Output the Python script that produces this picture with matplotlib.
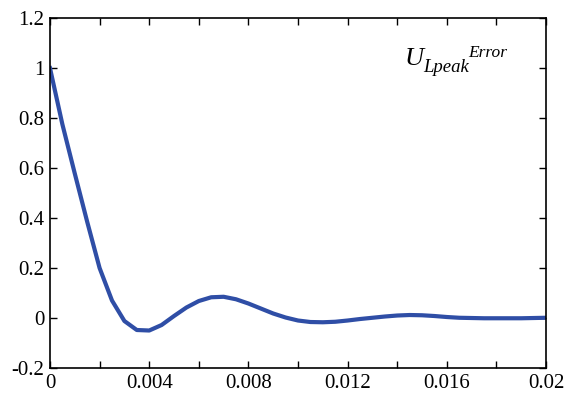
import matplotlib.pyplot as plt
from matplotlib.ticker import MultipleLocator

plt.rcParams['font.family'] = ['Liberation Serif', 'DejaVu Serif']

# peak voltage error vs time
t = [0, 0.0005, 0.001, 0.0015, 0.002, 0.0025, 0.003, 0.0035, 0.004, 0.0045,
     0.005, 0.0055, 0.006, 0.0065, 0.007, 0.0075, 0.008, 0.0085, 0.009, 0.0095,
     0.010, 0.0105, 0.011, 0.0115, 0.012, 0.0125, 0.013, 0.0135, 0.014, 0.0145,
     0.015, 0.0155, 0.016, 0.0165, 0.017, 0.0175, 0.018, 0.0185, 0.019, 0.0195,
     0.020]
u_err = [1.0, 0.775, 0.578, 0.385, 0.2, 0.07, -0.012, -0.048, -0.05, -0.028,
         0.008, 0.042, 0.068, 0.083, 0.085, 0.075, 0.058, 0.038, 0.018, 0.002,
         -0.01, -0.016, -0.017, -0.015, -0.01, -0.004, 0.001, 0.006, 0.01, 0.012,
         0.011, 0.008, 0.004, 0.001, 0.0, -0.001, -0.001, -0.001, -0.001, 0.0,
         0.001]

fig = plt.figure(figsize=(5.7, 3.94), dpi=100)
ax = fig.add_axes([0.0877, 0.066, 0.8703, 0.888])
ax.plot(t, u_err, color='#2f4ea6', linewidth=3, solid_joinstyle='round')

ax.set_xlim(0, 0.02)
ax.set_ylim(-0.2, 1.2)
ax.xaxis.set_minor_locator(MultipleLocator(0.002))
ax.set_xticks([0, 0.004, 0.008, 0.012, 0.016, 0.02])
ax.set_xticklabels(['0', '0.004', '0.008', '0.012', '0.016', '0.02'])
ax.set_yticks([-0.2, 0, 0.2, 0.4, 0.6, 0.8, 1.0, 1.2])
ax.set_yticklabels(['-0.2', '0', '0.2', '0.4', '0.6', '0.8', '1', '1.2'])
ax.tick_params(which='both', direction='in', top=True, right=True,
               length=5, width=1, labelsize=15, pad=4)
for s in ax.spines.values():
    s.set_linewidth(1.2)

# U_Lpeak^Error label, built from three italic pieces
ax.text(0.714, 0.866, 'U', transform=ax.transAxes, fontsize=19, style='italic')
ax.text(0.752, 0.846, 'Lpeak', transform=ax.transAxes, fontsize=13.5, style='italic')
ax.text(0.843, 0.889, 'Error', transform=ax.transAxes, fontsize=12.5, style='italic')

fig.savefig('out.png', dpi=100)
